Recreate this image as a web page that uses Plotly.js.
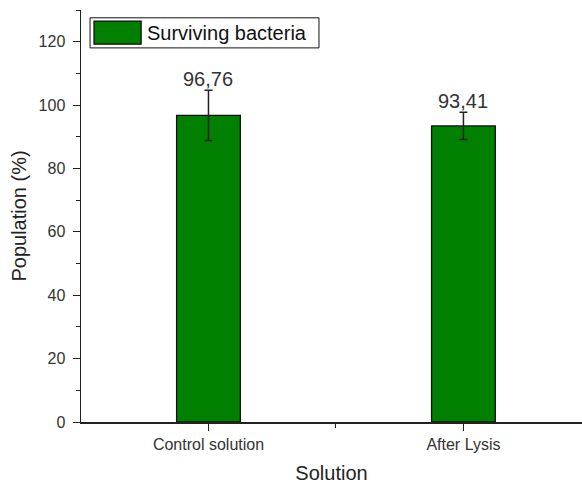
<!DOCTYPE html>
<html>
<head>
<meta charset="utf-8">
<script src="https://cdn.plot.ly/plotly-3.0.1.min.js"></script>
<style>
  html, body { margin: 0; padding: 0; background: #fff; overflow: hidden; }
  #chart { width: 582px; height: 485px; }
</style>
</head>
<body>
<div id="chart"></div>
<script>
// ---- data ----
const categories = ['Control solution', 'After Lysis'];
const survivingValues = [96.76, 93.41];
const survivingErrors = [7.9, 4.3];
const valueLabels = ['96,76', '93,41'];
const seriesName = 'Surviving bacteria';
const xTitle = 'Solution';
const yTitle = 'Population (%)';

// ---- styling ----
const FONT = 'Liberation Sans, Arial, sans-serif';
const GREEN = '#007f00';
const positions = categories.map((c, i) => i);

const trace = {
  type: 'bar',
  name: seriesName,
  x: positions,
  y: survivingValues,
  width: 0.25,
  marker: { color: GREEN, line: { color: '#111', width: 1.3 } },
  error_y: { type: 'data', array: survivingErrors, visible: true, color: '#222', thickness: 1.5, width: 4 },
  showlegend: false,
  hoverinfo: 'skip'
};

const valueAnnotations = positions.map((p, i) => ({
  x: p, y: survivingValues[i] + survivingErrors[i],
  xref: 'x', yref: 'y',
  text: valueLabels[i],
  showarrow: false,
  xanchor: 'center', yanchor: 'bottom',
  yshift: -2,
  font: { family: FONT, size: 20, color: '#333' }
}));

// custom legend (large swatch like the reference)
const legendShapes = [
  { type: 'rect', xref: 'paper', yref: 'paper', x0: 0.018, x1: 0.475, y0: 0.908, y1: 0.981,
    line: { color: '#111', width: 1 }, fillcolor: 'rgba(0,0,0,0)' },
  { type: 'rect', xref: 'paper', yref: 'paper', x0: 0.026, x1: 0.12, y0: 0.917, y1: 0.973,
    line: { color: '#111', width: 1.3 }, fillcolor: GREEN }
];
const legendText = {
  x: 0.128, y: 0.945, xref: 'paper', yref: 'paper',
  text: seriesName, showarrow: false, xanchor: 'left', yanchor: 'middle',
  font: { family: FONT, size: 20, color: '#111' }
};

const layout = {
  width: 582, height: 485,
  margin: { l: 81, r: 0, t: 10, b: 63 },
  paper_bgcolor: '#fff', plot_bgcolor: '#fff',
  font: { family: FONT, color: '#333' },
  showlegend: false,
  xaxis: {
    range: [-0.5, 1.465],
    tickmode: 'array', tickvals: positions, ticktext: categories,
    ticks: 'outside', ticklen: 7, tickwidth: 1, tickcolor: '#222',
    minor: { tickmode: 'array', tickvals: [0.5], ticks: 'outside', ticklen: 4, tickwidth: 1, tickcolor: '#222' },
    showline: true, linecolor: '#222', linewidth: 1.5,
    showgrid: false, zeroline: false,
    tickfont: { family: FONT, size: 16, color: '#333' },
    title: { text: xTitle, font: { family: FONT, size: 20, color: '#222' }, standoff: 14 },
    fixedrange: true
  },
  xaxis2: {
    overlaying: 'x', side: 'top', anchor: 'y',
    range: [-0.5, 1.465],
    tickmode: 'array', tickvals: positions, ticktext: ['', ''],
    ticks: 'inside', ticklen: 6, tickwidth: 1, tickcolor: '#222',
    showline: true, linecolor: '#222', linewidth: 1.5,
    showgrid: false, zeroline: false, showticklabels: false
  },
  yaxis: {
    range: [0, 130], dtick: 20, tick0: 0,
    ticks: 'outside', ticklen: 7, tickwidth: 1, tickcolor: '#222',
    minor: { dtick: 10, ticks: 'outside', ticklen: 4, tickwidth: 1, tickcolor: '#222' },
    showline: true, linecolor: '#222', linewidth: 1.5,
    showgrid: false, zeroline: false,
    ticklabelstandoff: 4,
    tickfont: { family: FONT, size: 16, color: '#333' },
    title: { text: yTitle, font: { family: FONT, size: 20, color: '#222' }, standoff: 6 },
    fixedrange: true
  },
  shapes: legendShapes,
  annotations: valueAnnotations.concat([legendText])
};

Plotly.newPlot('chart', [trace], layout, { displayModeBar: false, staticPlot: true });
</script>
</body>
</html>
